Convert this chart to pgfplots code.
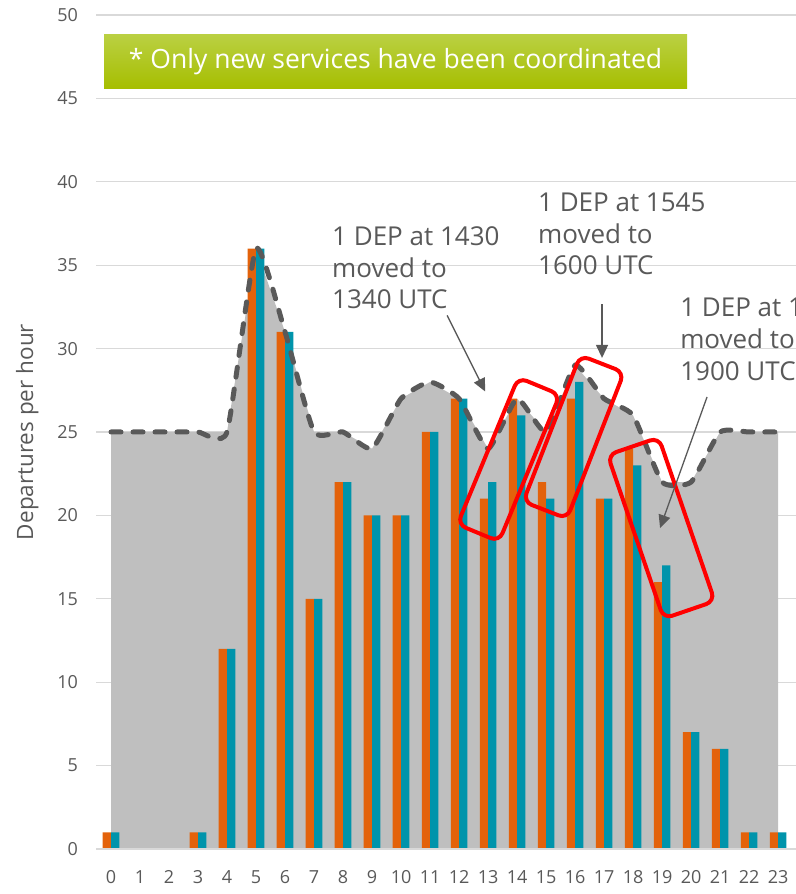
\documentclass[border=0pt]{standalone}
\usepackage{pgfplots}
\pgfplotsset{compat=1.18}
\usepackage{fontspec}
\setmainfont{Open Sans}
\usetikzlibrary{arrows.meta,calc}
\definecolor{barorange}{HTML}{E3620B}
\definecolor{barteal}{HTML}{0094AB}
\definecolor{areagray}{HTML}{BFBFBF}
\definecolor{linegray}{HTML}{595959}
\definecolor{gridgray}{HTML}{D9D9D9}
\definecolor{txtgray}{HTML}{595959}
\definecolor{greentop}{HTML}{BAD042}
\definecolor{greenbot}{HTML}{A6BE00}

\pgfplotstableread{
h before after cap
0  1  1  25
1  0  0  25
2  0  0  25
3  1  1  25
4  12 12 25
5  36 36 36
6  31 31 31
7  15 15 25
8  22 22 25
9  20 20 24
10 20 20 27
11 25 25 28
12 27 27 27
13 21 22 24
14 27 26 27
15 22 21 25
16 27 28 29
17 21 21 27
18 24 23 26
19 16 17 22
20 7  7  22
21 6  6  25
22 1  1  25
23 1  1  25
}\deptable

\begin{document}
\begin{tikzpicture}
\begin{axis}[
  scale only axis, width=699pt, height=834pt,
  xmin=-0.5, xmax=23.6, ymin=0, ymax=50,
  xtick={0,...,23}, ytick={0,5,...,50},
  axis line style={draw=none}, major tick length=0pt,
  ymajorgrids, grid style={gridgray, line width=1.3pt},
  /pgf/number format/assume math mode=true,
  tick label style={font=\fontsize{18}{20}\selectfont, text=txtgray},
  xticklabel style={yshift=-18pt},
  yticklabel style={xshift=-15pt},
  ylabel={Departures per hour},
  ylabel style={at={(axis description cs:-0.099,0.5)}, anchor=center,
    font=\fontsize{22.5}{24}\selectfont, text=txtgray},
  clip=false,
]
\addplot[fill=areagray, draw=none] table[x=h, y=cap] {\deptable} \closedcycle;
\addplot[ybar, bar width=8.3pt, bar shift=-4.15pt, fill=barorange, draw=none]
  table[x=h, y=before] {\deptable};
\addplot[ybar, bar width=8.3pt, bar shift=4.15pt, fill=barteal, draw=none]
  table[x=h, y=after] {\deptable};
\addplot[smooth, tension=0.3, linegray, line width=5pt, line cap=round,
  dash pattern=on 10pt off 12pt] table[x=h, y=cap] {\deptable};
\draw[gridgray, line width=1.5pt] (rel axis cs:0,0) -- (rel axis cs:1,0);

% note box
\node[top color=greentop, bottom color=greenbot, minimum width=583pt,
  minimum height=54pt, inner sep=0pt, text=white,
  font=\fontsize{26.5}{28}\selectfont] at (axis cs:9.81,47.2)
  {* Only new services have been coordinated};

% red boxes
\begin{scope}[every node/.style={draw=red, line width=4pt, rounded corners=9pt, inner sep=0pt}]
\node[minimum width=159pt, minimum height=45pt, rotate=67.5] at (axis cs:13.71,23.35) {};
\node[minimum width=157pt, minimum height=47pt, rotate=68.7] at (axis cs:15.95,24.70) {};
\node[minimum width=173pt, minimum height=54pt, rotate=108.9] at (axis cs:18.97,19.24) {};
\end{scope}

% annotations
\begin{scope}[every node/.style={anchor=west, inner sep=0pt, text height=17.5pt,
  text depth=0pt, text=txtgray, font=\fontsize{26}{30}\selectfont}]
\node at (axis cs:7.62,36.69) {1 DEP at 1430};
\node at (axis cs:7.62,34.77) {moved to};
\node at (axis cs:7.62,32.91) {1340 UTC};
\node at (axis cs:14.72,38.73) {1 DEP at 1545};
\node at (axis cs:14.72,36.81) {moved to};
\node at (axis cs:14.72,34.95) {1600 UTC};
\node at (axis cs:19.62,32.43) {1 DEP at 1845};
\node at (axis cs:19.62,30.52) {moved to};
\node at (axis cs:19.62,28.60) {1900 UTC};
\end{scope}
\begin{scope}[linegray, line width=1.3pt, -{Triangle[length=13pt, width=12pt]}]
\draw (axis cs:11.59,31.99) -- (axis cs:12.90,27.43);
\draw (axis cs:16.93,32.67) -- (axis cs:16.93,29.44);
\draw (axis cs:20.55,27.10) -- (axis cs:18.93,19.24);
\end{scope}

\coordinate (sw) at (rel axis cs:0,0);
\coordinate (ne) at (rel axis cs:1,1);
\end{axis}
\pgfresetboundingbox
\path[use as bounding box] ($(sw)+(-96.5pt,-45pt)$) rectangle ($(ne)+(0pt,15pt)$);
\end{tikzpicture}
\end{document}
